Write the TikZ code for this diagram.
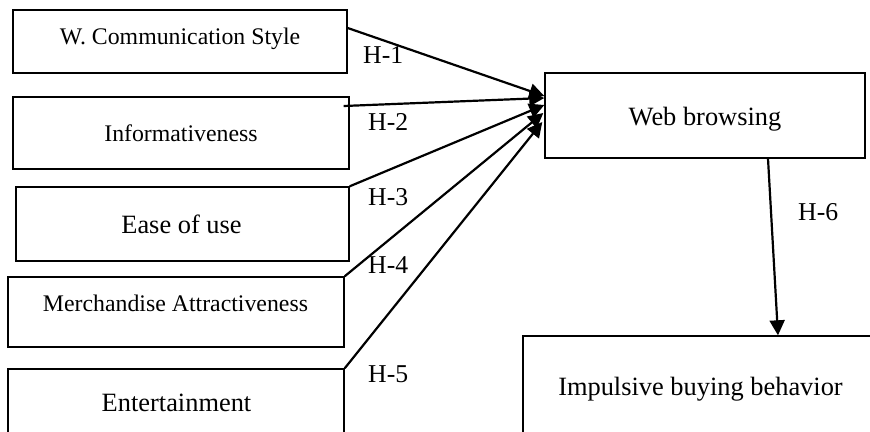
\documentclass[tikz,border=0pt]{standalone}
\usepackage{fontspec}
\setmainfont{Liberation Serif}
\usetikzlibrary{arrows.meta}
\begin{document}
\begin{tikzpicture}[x=1pt,y=-1pt,
  box/.style={draw, line width=1.4pt, rectangle, inner sep=0pt},
  lblS/.style={font=\fontsize{23.8}{28}\selectfont, anchor=base, inner sep=0pt},
  lblL/.style={font=\fontsize{26.4}{30}\selectfont, anchor=base, inner sep=0pt},
  hyp/.style={font=\fontsize{25.7}{30}\selectfont, anchor=base west, inner sep=0pt},
  conn/.style={line width=2.2pt, -{Triangle[length=15pt,width=15pt]}}]
\useasboundingbox (0,0) rectangle (870,431);
\clip (0,0) rectangle (870,431);
% boxes
\node[box, minimum width=334pt, minimum height=63pt] (b1) at (180,41.5) {};
\node[box, minimum width=336pt, minimum height=72pt] (b2) at (181,133) {};
\node[box, minimum width=333pt, minimum height=74pt] (b3) at (182.5,224) {};
\node[box, minimum width=336pt, minimum height=70pt] (b4) at (176,312) {};
\node[box, minimum width=336pt, minimum height=76pt] (b5) at (176,407) {};
\node[box, minimum width=320pt, minimum height=85pt] (web) at (705,115.5) {};
\node[box, minimum width=362pt, minimum height=109pt] (imp) at (704,390.5) {};
% texts
\node[lblS] (t1) at (180,44.5) {W. Communication Style};
\node[lblS] (t2) at (181,141.7) {Informativeness};
\node[lblL] (t3) at (181.5,233.3) {Ease of use};
\node[lblS] (t4) at (175.5,311) {Merchandise Attractiveness};
\node[lblL] (t5) at (176.5,411) {Entertainment};
\node[lblL] (tw) at (705,125.7) {Web browsing};
\node[lblL] (ti) at (700.5,395) {Impulsive buying behavior};
% connectors
\draw[conn] ([yshift=13.5pt]b1.east) -- ([yshift=19.5pt]web.west);
\draw[conn] ([xshift=-6pt,yshift=27pt]b2.east) -- ([yshift=17.5pt]web.west);
\draw[conn] (b3.north east) -- ([yshift=10.5pt]web.west);
\draw[conn] (b4.north east) -- ([xshift=-1pt,yshift=2.5pt]web.west);
\draw[conn] (b5.north east) -- ([xshift=-2pt,yshift=-6.5pt]web.west);
\draw[conn] ([xshift=63pt]web.south) -- ([xshift=74pt]imp.north);
% hypothesis labels
\node[hyp] (h1) at (363,63.3) {H-1};
\node[hyp] (h2) at (368,130.7) {H-2};
\node[hyp] (h3) at (368,205) {H-3};
\node[hyp] (h4) at (368,273.3) {H-4};
\node[hyp] (h5) at (368,382.7) {H-5};
\node[hyp] (h6) at (798,220) {H-6};
\end{tikzpicture}
\end{document}
